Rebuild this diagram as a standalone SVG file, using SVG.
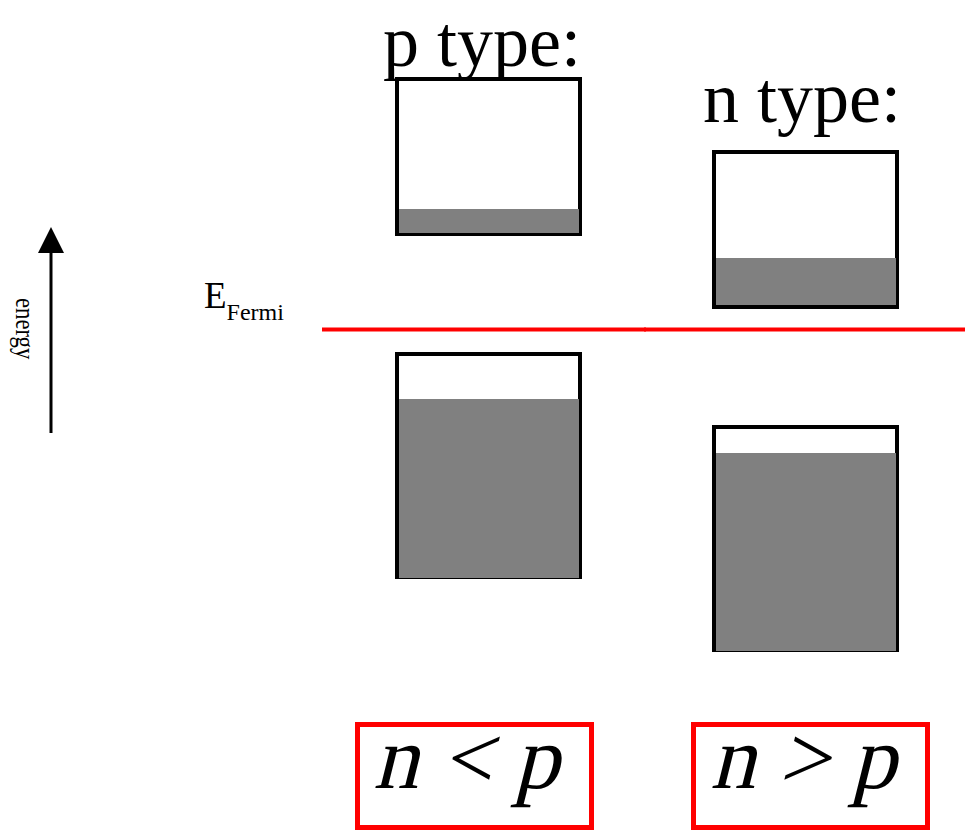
<svg xmlns="http://www.w3.org/2000/svg" width="965" height="831" viewBox="0 0 965 831">
<style>
.t{font-family:"Liberation Serif","Times New Roman","DejaVu Serif",serif;fill:#000}
.box{fill:#fff;stroke:#000;stroke-width:4}
.fill{fill:#808080}
.red{fill:#fff;stroke:#ff0000;stroke-width:5}
.fermi{stroke:#ff0000;stroke-width:4}
</style>
<rect width="965" height="831" fill="#fff"/>
<g id="connectors">
<line x1="51" y1="433" x2="51" y2="253" stroke="#000" stroke-width="3"/>
<path d="M38,253 L51,227 L64,253 Z" fill="#000"/>
<line class="fermi" x1="322" y1="329.5" x2="646" y2="329.5"/>
<line class="fermi" x1="644" y1="329.5" x2="965" y2="329.5"/>
</g>
<g id="energy-label">
<text class="t" font-size="27" transform="translate(16,298) rotate(90) scale(0.84,1)">energy</text>
</g>
<g id="efermi-label">
<text class="t" x="204" y="308" font-size="37">E<tspan font-size="24" dy="12">Fermi</tspan></text>
</g>
<g id="p-type-title">
<text class="t" x="482" y="66" font-size="72" text-anchor="middle">p type:</text>
</g>
<g id="n-type-title">
<text class="t" x="802" y="122" font-size="72" text-anchor="middle">n type:</text>
</g>
<g id="p-conduction">
<rect class="box" x="397" y="79" width="183" height="155"/>
<rect class="fill" x="399" y="209" width="180" height="24"/>
</g>
<g id="n-conduction">
<rect class="box" x="714" y="152" width="183" height="155"/>
<rect class="fill" x="716" y="258" width="180" height="47"/>
</g>
<g id="p-valence">
<rect class="box" x="397" y="354" width="183" height="223"/>
<rect class="fill" x="399" y="399" width="180" height="179"/>
</g>
<g id="n-valence">
<rect class="box" x="714" y="427" width="183" height="223"/>
<rect class="fill" x="716" y="453" width="180" height="198"/>
</g>
<g id="n-less-p">
<rect class="red" x="357.5" y="724.5" width="234" height="103"/>
<text class="t" font-size="90" text-anchor="middle" transform="translate(466,788) skewX(-14)">n &lt; p</text>
</g>
<g id="n-greater-p">
<rect class="red" x="693.5" y="724.5" width="234" height="103"/>
<text class="t" font-size="90" text-anchor="middle" transform="translate(803,788) skewX(-14)">n &gt; p</text>
</g>
</svg>
